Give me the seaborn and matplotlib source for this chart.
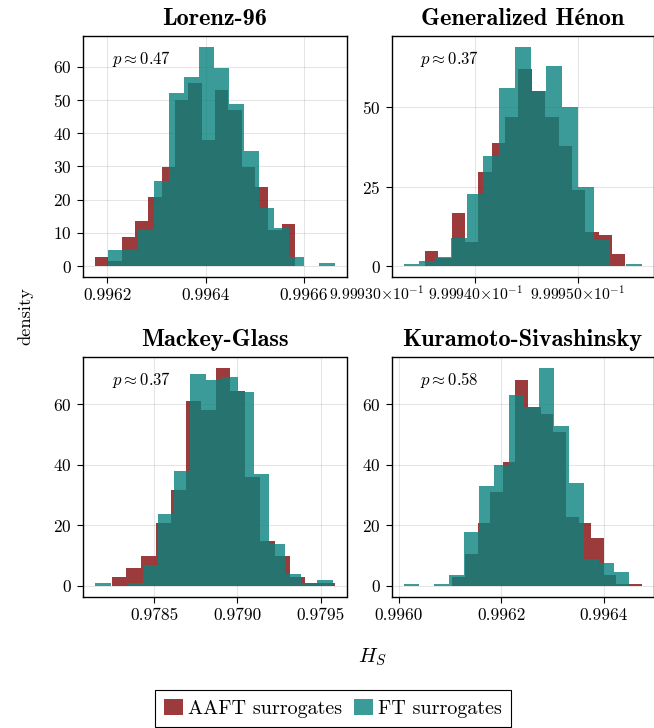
import numpy as np
import seaborn as sns
import matplotlib.pyplot as plt
from matplotlib.patches import Patch
from matplotlib.ticker import MultipleLocator, FixedLocator, FixedFormatter

sns.set_theme(style="white")
plt.rcParams['font.family'] = ['cmr10', 'DejaVu Serif']
plt.rcParams['mathtext.fontset'] = 'cm'
plt.rcParams['axes.formatter.use_mathtext'] = True
plt.rcParams['axes.unicode_minus'] = False
plt.rcParams['text.color'] = 'black'

# ==============================
# data (bar heights, 15 bins per series)
# ==============================
titles = ["Lorenz-96", "Generalized Hénon", "Mackey-Glass", "Kuramoto-Sivashinsky"]
p_values = [0.47, 0.37, 0.37, 0.58]

# Lorenz-96
aaft_range_l96 = (0.996175, 0.996582)
ft_range_l96 = (0.996202, 0.996662)
aaft_l96 = [2.6, 1.6, 8.6, 13.6, 20.7, 29.9, 50, 55, 37.9, 53, 46.9, 29.9, 23.9, 10.8, 12.8]
ft_l96 = [4.8, 4.8, 10.8, 25.7, 52, 56.8, 66, 59.8, 48.7, 34.7, 17.6, 11.5, 2.6, 0, 0.8]

# Generalized Henon
aaft_range_hen = (0.9999351, 0.9999546)
ft_range_hen = (0.9999330, 0.9999562)
aaft_hen = [4.7, 2.5, 16.8, 7.7, 29.7, 38.9, 46.8, 62, 55, 46.8, 37.9, 24, 10.8, 9.8, 3.7]
ft_hen = [0.6, 1.7, 2.7, 8.7, 22.7, 34.8, 56, 69, 55, 63, 50, 25, 8.2, 0, 0.6]

# Mackey-Glass
aaft_range_mg = (0.978244, 0.979584)
ft_range_mg = (0.978144, 0.979574)
aaft_mg = [3.0, 5.9, 9.9, 20.9, 31.8, 61, 58, 71.9, 64.5, 36, 14.8, 9.9, 3.0, 0.8, 0.8]
ft_mg = [0.9, 0, 0.8, 6.9, 23.8, 37.9, 70, 68, 69, 64, 37, 13.9, 3.8, 0.8, 1.9]

# Kuramoto-Sivashinsky
aaft_range_ks = (0.9961048, 0.9964740)
ft_range_ks = (0.9960097, 0.9964489)
aaft_ks = [2.8, 10.6, 20.7, 30.9, 41, 68.1, 59, 56.9, 51, 22.9, 20.7, 15.8, 3.6, 0.7, 0.6]
ft_ks = [0.6, 0, 0.6, 3.6, 17.7, 32.9, 40, 63, 59, 72, 53, 34, 8.8, 7.7, 4.5]

# ticks
xticks = [[0.9962, 0.9964, 0.9966], [0.99994, 0.99995],
          [0.9785, 0.9790, 0.9795], [0.9960, 0.9962, 0.9964]]
xticklabels = [["0.9962", "0.9964", "0.9966"],
               [r"$9.99940{\times}10^{-1}$", r"$9.99950{\times}10^{-1}$"],
               ["0.9785", "0.9790", "0.9795"], ["0.9960", "0.9962", "0.9964"]]
ystep = [10, 25, 20, 20]

panels = [
    (aaft_range_l96, aaft_l96, ft_range_l96, ft_l96),
    (aaft_range_hen, aaft_hen, ft_range_hen, ft_hen),
    (aaft_range_mg, aaft_mg, ft_range_mg, ft_mg),
    (aaft_range_ks, aaft_ks, ft_range_ks, ft_ks),
]

RED = "#820a0a"
TEAL = "#0a827e"
ALPHA = 0.8

# ==============================
# figure
# ==============================
W, H = 654, 728
fig = plt.figure(figsize=(W / 100, H / 100), dpi=100)

# axes boxes in pixels (left, top, right, bottom)
boxes = [(83, 36, 346.5, 277), (391.7, 36, 653.5, 277),
         (83, 357.3, 346.5, 596.7), (391.7, 357.3, 653.5, 596.7)]


def draw_hist(ax, rng, heights, color):
    n = len(heights)
    edges = np.linspace(rng[0], rng[1], n + 1)
    centers = (edges[:-1] + edges[1:]) / 2
    sns.histplot(x=centers, weights=heights, bins=n, binrange=rng,
                 color=color, alpha=ALPHA, linewidth=0, edgecolor=None, ax=ax)


for i, (box, data) in enumerate(zip(boxes, panels)):
    l, t, r, b = box
    ax = fig.add_axes([l / W, 1 - b / H, (r - l) / W, (b - t) / H])
    a_rng, a_h, f_rng, f_h = data
    draw_hist(ax, a_rng, a_h, RED)
    draw_hist(ax, f_rng, f_h, TEAL)

    lo = min(a_rng[0], f_rng[0])
    hi = max(a_rng[1], f_rng[1])
    span = hi - lo
    ax.set_xlim(lo - 0.05 * span, hi + 0.05 * span)
    ymax = max(max(a_h), max(f_h))
    ax.set_ylim(-0.05 * ymax, 1.05 * ymax)

    ax.xaxis.set_major_locator(FixedLocator(xticks[i]))
    ax.xaxis.set_major_formatter(FixedFormatter(xticklabels[i]))
    ax.yaxis.set_major_locator(MultipleLocator(ystep[i]))
    ax.set_xlabel("")
    ax.set_ylabel("")
    ax.tick_params(axis="both", labelsize=12.5, colors="black", length=4,
                   width=0.8, direction="out", bottom=True, left=True, pad=4)
    ax.grid(True, color="black", alpha=0.1, linewidth=0.8)
    ax.set_axisbelow(True)
    for s in ax.spines.values():
        s.set_color("black")
        s.set_linewidth(1.0)

    ax.set_title(titles[i], fontsize=17.5, fontweight="bold", color="black",
                 family=["cmb10", "STIXGeneral"], pad=8)
    ax.text(0.11, 0.905, rf"$p \approx {p_values[i]:.2f}$", transform=ax.transAxes,
            ha="left", va="center", fontsize=12)

    if i == 1:
        ax.tick_params(axis="x", labelsize=11.3, pad=1.5)
        # tick label that sits left of the axis limits
        ax.annotate(r"$9.99930{\times}10^{-1}$", xy=(0.99993, 0), xycoords=("data", "axes fraction"),
                    xytext=(3, -5.5), textcoords="offset points", ha="center", va="top",
                    fontsize=11.3, annotation_clip=False)

fig.text(25 / W, 1 - 316 / H, "density", rotation=90, ha="center", va="center", fontsize=13.3)
fig.text(372 / W, 1 - 657 / H, r"$H_S$", ha="center", va="center", fontsize=15)

handles = [Patch(facecolor=RED, alpha=ALPHA, edgecolor="none"),
           Patch(facecolor=TEAL, alpha=ALPHA, edgecolor="none")]
leg = fig.legend(handles, ["AAFT surrogates", "FT surrogates"], loc="upper center",
                 bbox_to_anchor=(333 / W, 1 - 690 / H), ncol=2, fontsize=14.5,
                 frameon=True, fancybox=False, edgecolor="black", framealpha=1,
                 handlelength=0.95, handleheight=0.85, handletextpad=0.25,
                 columnspacing=0.6, borderpad=0.45, borderaxespad=0)
leg.get_frame().set_linewidth(0.8)

fig.savefig("out.png", dpi=100)
